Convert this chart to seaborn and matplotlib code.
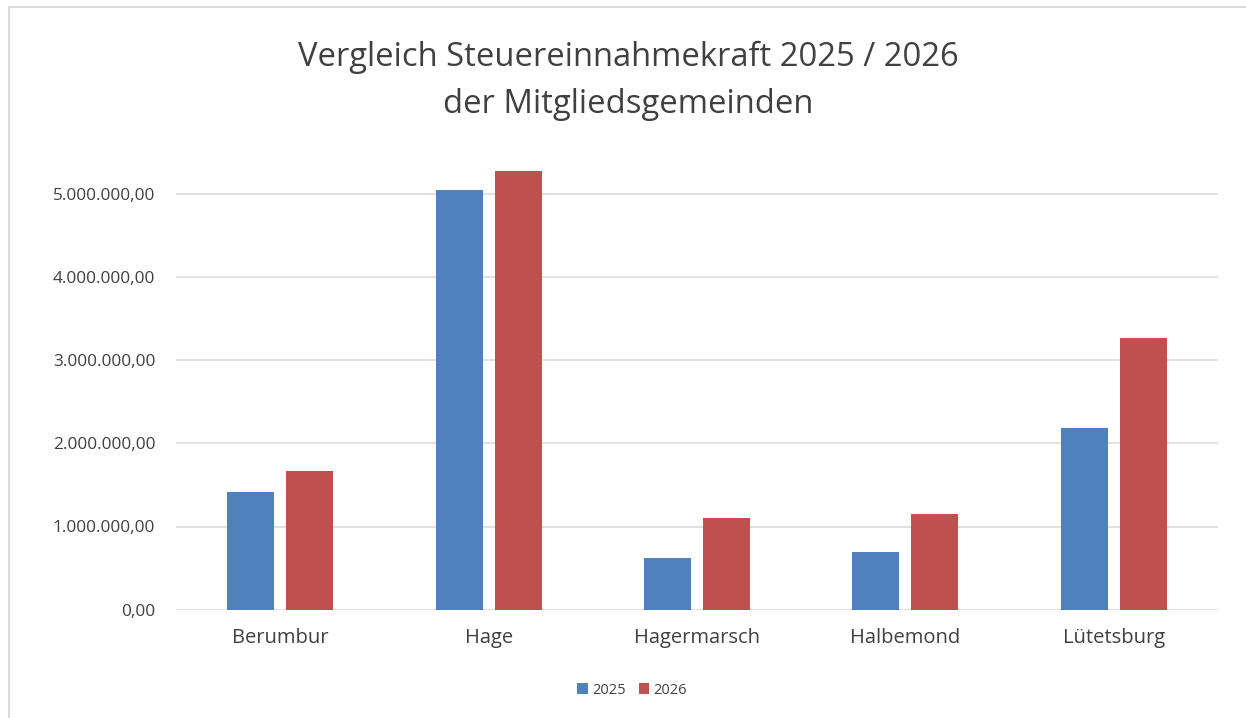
import matplotlib
matplotlib.use("Agg")
import matplotlib.pyplot as plt
from matplotlib.patches import Rectangle, Patch
from matplotlib.ticker import FuncFormatter, MultipleLocator
import seaborn as sns
import pandas as pd

# ---- data ----
gemeinden = ["Berumbur", "Hage", "Hagermarsch", "Halbemond", "Lütetsburg"]
werte_2025 = [1418000, 5048000, 625000, 694000, 2180000]
werte_2026 = [1663000, 5269000, 1106000, 1147000, 3266000]
jahre = ["2025", "2026"]
title_lines = ["Vergleich Steuereinnahmekraft 2025 / 2026", "der Mitgliedsgemeinden"]

df = pd.DataFrame({
    "Gemeinde": gemeinden * 2,
    "Jahr": [jahre[0]] * len(gemeinden) + [jahre[1]] * len(gemeinden),
    "Wert": werte_2025 + werte_2026,
})

sns.set_theme(style="white")
plt.rcParams["font.family"] = ["Open Sans", "DejaVu Sans"]
text_color = "#404040"
colors = ["#4f81bd", "#c0504d"]

W, H = 1246, 718
fig = plt.figure(figsize=(W / 100, H / 100), dpi=100)
ax = fig.add_axes([176 / W, 1 - 609.7 / H, (1218 - 176) / W, (609.7 - 152.1) / H])

sns.barplot(data=df, x="Gemeinde", y="Wert", hue="Jahr", palette=colors,
            width=0.568, gap=0.206, ax=ax, legend=False, saturation=1,
            edgecolor="none", zorder=3)

ax.set_ylim(0, 5.5e6)
ax.set_xlim(-0.5, len(gemeinden) - 0.5)
ax.yaxis.set_major_locator(MultipleLocator(1e6))


def de_fmt(v, pos):
    s = f"{v:,.2f}"
    return s.replace(",", "X").replace(".", ",").replace("X", ".")


ax.yaxis.set_major_formatter(FuncFormatter(de_fmt))
ax.set_yticks([0, 1e6, 2e6, 3e6, 4e6, 5e6])
ax.grid(axis="y", color="#d9d9d9", linewidth=1.1, zorder=0)
ax.set_axisbelow(True)
for sp in ax.spines.values():
    sp.set_visible(False)
ax.set_xlabel("")
ax.set_ylabel("")
ax.tick_params(axis="both", length=0, labelcolor=text_color)
ax.tick_params(axis="y", pad=15, labelsize=12.4)
ax.tick_params(axis="x", pad=13, labelsize=14.5)

# title
fig.text(628 / W, 1 - 66 / H, title_lines[0], ha="center", va="baseline",
         fontsize=23.6, color=text_color)
fig.text(628 / W, 1 - 112.7 / H, title_lines[1], ha="center", va="baseline",
         fontsize=23.6, color=text_color)

# legend
handles = [Patch(facecolor=c, edgecolor="none", label=j) for c, j in zip(colors, jahre)]
fig.legend(handles=handles, loc="center", bbox_to_anchor=(632 / W, 1 - 690 / H),
           ncol=2, frameon=False, fontsize=10.5, handlelength=0.7, handleheight=0.7,
           handletextpad=0.3, columnspacing=0.9, labelcolor=text_color)

# chart border (partially visible)
fig.patches.append(Rectangle((9 / W, -0.1), 1.2, (1 - 7.5 / H) + 0.1,
                             transform=fig.transFigure, fill=False,
                             edgecolor="#d9d9d9", linewidth=1.3))

fig.savefig("out.png", dpi=100, facecolor="white")
